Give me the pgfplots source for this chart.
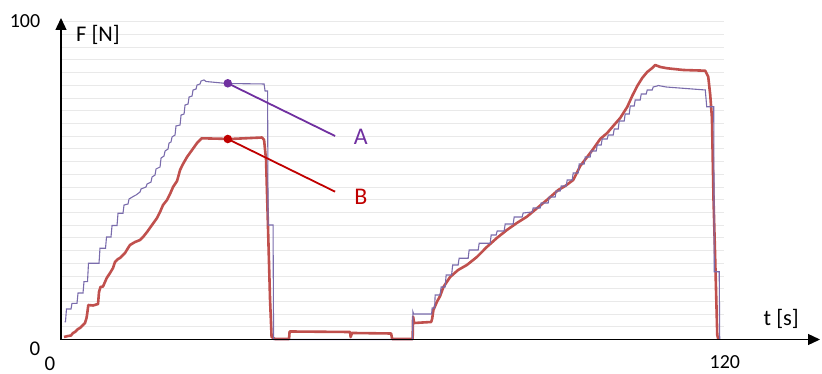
\documentclass[border=0pt]{standalone}
\usepackage{pgfplots}
\pgfplotsset{compat=1.18}
\usepackage{fontspec}
\setmainfont{Carlito}
\usetikzlibrary{arrows.meta}
\definecolor{curveA}{RGB}{122,108,172}
\definecolor{curveB}{RGB}{192,80,77}
\definecolor{annA}{RGB}{112,48,160}
\definecolor{annB}{RGB}{192,0,0}
\definecolor{gridc}{RGB}{233,233,233}
\begin{document}
\begin{tikzpicture}
\begin{axis}[
  scale only axis, width=759bp, height=321.5bp,
  xmin=0, xmax=138.58, ymin=0, ymax=101.16,
  axis lines=left, axis on top,
  axis line style={line width=1.3bp, -{Triangle[length=12bp,width=11bp]}},
  xtick=\empty, ytick=\empty,
  clip=false,
]
\pgfplotsinvokeforeach{4,8,...,100}{\draw[gridc, line width=0.8bp] (axis cs:0.2,#1) -- (axis cs:121,#1);}
\coordinate (O) at (axis cs:0,0);

% Series B (red, noisy measured force)
\addplot[curveB, line width=2.6bp, line join=round] coordinates {
(0.55,0.79)(1.28,1.10)(1.83,1.26)(2.19,2.05)(2.56,2.36)(3.11,3.30)(3.47,3.62)(4.02,4.56)(4.38,5.19)
(4.66,6.77)(4.80,8.34)(4.99,10.86)(5.84,10.70)(6.76,11.17)(6.94,14.95)(7.21,16.52)(7.67,16.68)
(8.35,19.35)(8.95,20.92)(9.50,22.50)(9.86,24.39)(10.41,25.33)(10.78,25.64)(11.69,27.22)(12.24,28.79)
(12.60,29.74)(13.52,30.68)(14.43,31.31)(14.98,32.25)(15.71,33.83)(16.62,36.03)(17.53,38.23)
(18.08,40.12)(18.63,42.32)(19.36,43.90)(19.91,45.78)(20.46,47.99)(21.19,49.87)(21.74,53.34)
(22.28,55.22)(23.01,57.43)(23.93,59.63)(24.84,61.83)(25.70,63.31)(30.87,63.09)(36.71,63.56)
(37.08,62.78)(37.44,56.48)(37.81,34.46)(38.17,12.43)(38.45,0.79)(39.09,0.16)(41.64,0.16)
(41.74,2.52)(52.79,2.36)(52.88,0.79)(53.15,2.05)(60.27,1.89)(60.46,0.16)(64.20,0.16)
(64.29,7.17)(64.47,5.19)(67.58,5.51)(67.76,6.45)(68.00,9.28)(68.62,11.80)(69.22,13.69)(69.83,16.52)
(71.05,19.67)(72.51,21.87)(74.10,23.44)(75.93,25.96)(77.75,29.11)(79.58,31.94)(81.41,34.46)
(83.23,36.66)(85.06,38.64)(86.89,41.28)(88.71,43.90)(90.78,47.04)(92.06,48.30)(93.52,50.19)
(94.80,54.59)(96.07,57.43)(97.17,59.94)(98.45,63.09)(99.73,64.98)(100.82,67.18)(102.10,69.70)
(103.38,73.16)(104.29,76.62)(105.21,79.77)(106.12,82.28)(107.03,84.17)(107.95,85.43)(108.49,86.37)
(109.41,85.75)(110.69,85.34)(113.61,84.80)(117.63,84.58)(118.17,82.69)(118.54,76.94)(118.85,69.70)
(119.14,43.90)(119.45,25.02)(119.82,1.42)(120.00,0.16)
};

% Series A (purple, stepped)
\addplot[curveA, line width=1.1bp] coordinates {
(0.64,5.60)(0.82,5.60)(1.00,9.60)(1.83,9.60)(2.01,11.39)(2.92,11.39)(3.11,14.63)(4.02,14.63)
(4.20,18.19)(4.84,18.19)(5.02,23.98)(6.94,23.98)(7.12,28.70)(8.13,28.70)(8.31,32.25)(9.13,32.25)
(9.32,35.87)(10.23,35.87)(10.41,39.71)(11.32,39.71)(11.51,42.32)(12.24,42.64)(12.42,44.21)
(13.33,45.15)(13.70,45.47)(14.43,46.41)(14.61,47.36)(15.53,47.99)(15.71,48.93)(16.44,49.56)
(16.62,51.13)(17.17,51.76)(17.35,53.65)(18.08,54.28)(18.27,57.11)(18.81,57.74)(19.00,59.31)
(19.54,59.94)(19.73,61.83)(20.09,62.15)(20.27,63.72)(20.82,64.35)(21.00,67.18)(21.74,67.49)
(21.92,70.64)(22.47,70.96)(22.65,73.79)(23.20,74.10)(23.38,76.30)(23.93,76.62)(24.11,78.51)
(24.66,78.82)(24.84,80.08)(25.39,80.40)(25.57,81.34)(26.12,81.66)(26.48,81.18)(30.32,80.55)
(37.08,80.40)(37.26,78.19)(37.72,78.19)(37.81,36.03)(38.72,36.03)(38.81,0)(64.20,0)
(64.24,8.75)(64.38,8.02)(67.67,8.02)(67.76,9.91)(68.22,9.91)(68.31,14.00)(69.22,14.00)
(69.41,16.52)(70.14,16.52)(70.32,20.30)(71.32,20.30)(71.51,23.44)(72.51,23.44)(72.69,25.55)
(74.34,25.55)(74.52,28.16)(76.17,28.16)(76.35,30.27)(78.36,30.27)(78.54,32.88)(79.45,32.88)
(79.64,34.14)(80.91,34.14)(81.10,36.34)(82.56,36.34)(82.74,38.55)(84.20,38.55)(84.38,39.80)
(86.03,40.12)(86.21,41.38)(87.49,41.38)(87.67,42.95)(88.95,42.95)(89.13,44.84)(90.23,44.84)
(90.41,46.73)(91.14,46.73)(91.33,48.30)(92.24,48.30)(92.42,50.19)(93.33,50.19)(93.52,52.39)
(94.43,52.39)(94.61,55.22)(95.53,55.22)(95.71,57.43)(96.62,57.43)(96.80,59.31)(97.72,59.31)
(97.90,61.20)(98.63,61.20)(98.81,63.09)(99.73,63.09)(99.91,64.35)(100.82,64.35)(101.01,66.24)
(101.74,66.24)(101.92,68.75)(102.83,68.75)(103.01,70.96)(103.75,70.96)(103.93,73.47)(104.66,73.47)
(104.84,75.36)(105.75,75.36)(105.94,77.25)(106.85,77.25)(107.03,78.51)(107.95,78.51)(108.13,79.45)
(108.86,79.77)(109.04,79.92)(110.50,79.45)(117.63,78.51)(117.90,73.25)(119.18,73.25)(119.27,21.33)
(120.18,21.33)(120.27,0)
};

% annotation lines and dots
\addplot[annA, line width=1.8bp, mark=*, mark size=3.3bp, mark repeat=2, mark phase=1] coordinates {(30.45,80.62)(50.05,64.03)};
\addplot[annB, line width=1.8bp, mark=*, mark size=3.3bp, mark repeat=2, mark phase=1] coordinates {(30.45,63.09)(50.05,46.51)};

\node[annA, font=\fontsize{24}{26}\selectfont] at (axis cs:54.75,63.81) {A};
\node[annB, font=\fontsize{24}{26}\selectfont] at (axis cs:54.75,44.93) {B};

\node[font=\fontsize{22.5}{24}\selectfont] at (axis cs:6.76,95.8) {F [N]};
\node[font=\fontsize{22.5}{24}\selectfont] at (axis cs:131.5,6.45) {t [s]};

\node[font=\fontsize{20}{22}\selectfont] at (axis cs:-6.58,100.2) {100};
\node[font=\fontsize{21}{22}\selectfont] at (axis cs:-4.75,-3.0) {0};
\node[font=\fontsize{21}{22}\selectfont, inner sep=0pt] at (axis cs:-2.0,-7.6) {0};
\node[font=\fontsize{20}{22}\selectfont, inner sep=0pt] at (axis cs:121.2,-7.0) {120};
\end{axis}
\pgfresetboundingbox
\path[use as bounding box] ([xshift=-61bp,yshift=-34.5bp]O) rectangle ([xshift=761bp,yshift=339.5bp]O);
\end{tikzpicture}
\end{document}
